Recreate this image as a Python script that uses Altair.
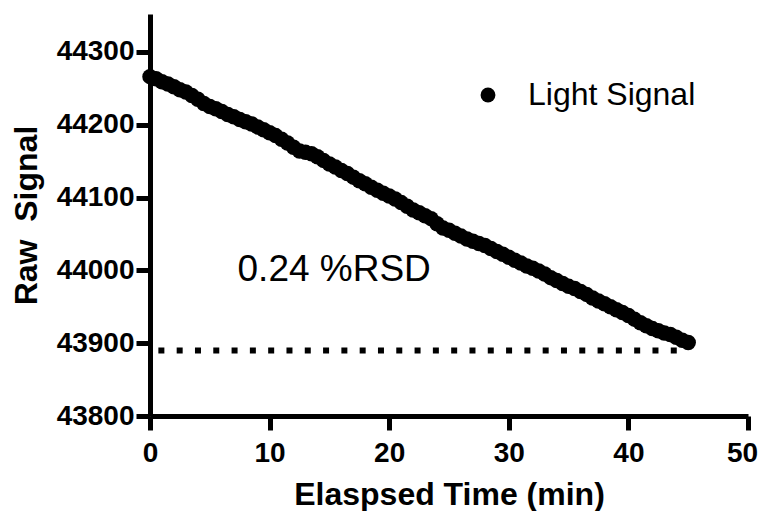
import altair as alt
import pandas as pd

FONT = "Liberation Sans"

time_min = [0.0, 0.5, 1.0, 1.5, 2.0, 2.5, 3.0, 3.5, 4.0, 4.5,
            5.0, 5.5, 6.0, 6.5, 7.0, 7.5, 8.0, 8.5, 9.0, 9.5,
            10.0, 10.5, 11.0, 11.5, 12.0, 12.5, 13.0, 13.5, 14.0, 14.5,
            15.0, 15.5, 16.0, 16.5, 17.0, 17.5, 18.0, 18.5, 19.0, 19.5,
            20.0, 20.5, 21.0, 21.5, 22.0, 22.5, 23.0, 23.5, 24.0, 24.5,
            25.0, 25.5, 26.0, 26.5, 27.0, 27.5, 28.0, 28.5, 29.0, 29.5,
            30.0, 30.5, 31.0, 31.5, 32.0, 32.5, 33.0, 33.5, 34.0, 34.5,
            35.0, 35.5, 36.0, 36.5, 37.0, 37.5, 38.0, 38.5, 39.0, 39.5,
            40.0, 40.5, 41.0, 41.5, 42.0, 42.5, 43.0, 43.5, 44.0, 44.5,
            45.0]
raw_signal = [44266, 44263, 44259, 44256, 44252, 44248, 44245, 44240, 44235, 44229,
              44225, 44222, 44218, 44214, 44211, 44207, 44204, 44201, 44197, 44193,
              44189, 44185, 44180, 44175, 44169, 44164, 44162, 44160, 44156, 44151,
              44146, 44142, 44137, 44133, 44128, 44123, 44119, 44114, 44110, 44106,
              44102, 44098, 44093, 44088, 44083, 44079, 44075, 44071, 44064, 44058,
              44055, 44051, 44047, 44043, 44040, 44037, 44034, 44030, 44026, 44022,
              44018, 44014, 44010, 44006, 44003, 43999, 43995, 43990, 43986, 43982,
              43978, 43975, 43971, 43967, 43962, 43958, 43954, 43950, 43946, 43942,
              43938, 43933, 43928, 43924, 43920, 43917, 43914, 43912, 43908, 43904,
              43901]
series_name = "Light Signal"

annot_text = ["0.24 %RSD"]
annot_x = [15.4]
annot_y = [44000]

ref_y = [43890]
ref_x_start = [0.7]
ref_x_end = [44.8]

x_ticks = [0, 10, 20, 30, 40, 50]
y_ticks = [43800, 43900, 44000, 44100, 44200, 44300]
x_domain = [0, 50]
y_domain = [43800, 44352]

x_title = "Elaspsed Time (min)"
y_title = "Raw\u00a0\u00a0Signal"

df = pd.DataFrame({"t": time_min, "v": raw_signal, "s": [series_name] * len(time_min)})
ref_df = pd.DataFrame({"x1": ref_x_start, "x2": ref_x_end, "y": ref_y})
txt_df = pd.DataFrame({"x": annot_x, "y": annot_y, "label": annot_text})

x_scale = alt.Scale(domain=x_domain, nice=False, zero=False)
y_scale = alt.Scale(domain=y_domain, nice=False, zero=False)
x_axis = alt.Axis(
    values=x_ticks, title=x_title, format="d",
    labelOffset={"condition": {"test": "datum.value == 50", "value": -6}, "value": 0},
)
y_axis = alt.Axis(values=y_ticks, title=y_title, format="d")

rule = alt.Chart(ref_df).mark_rule(
    color="black", strokeWidth=6, strokeDash=[6, 12.3], strokeCap="butt"
).encode(
    x=alt.X("x1:Q", scale=x_scale, axis=x_axis),
    x2="x2:Q",
    y=alt.Y("y:Q", scale=y_scale, axis=y_axis),
)

points = alt.Chart(df).mark_point(
    filled=True, size=240, opacity=1, shape="circle"
).encode(
    x=alt.X("t:Q", scale=x_scale, axis=x_axis),
    y=alt.Y("v:Q", scale=y_scale, axis=y_axis),
    color=alt.Color(
        "s:N",
        scale=alt.Scale(range=["black"]),
        legend=alt.Legend(
            title=None, orient="none", legendX=322, legendY=65,
            symbolSize=220, symbolType="circle", symbolFillColor="black",
            symbolStrokeWidth=0, labelFontSize=32, labelFont=FONT,
            labelColor="black", labelOffset=24, labelFontWeight="normal",
            labelLimit=400,
        ),
    ),
)

text = alt.Chart(txt_df).mark_text(
    font=FONT, fontSize=37, align="center", baseline="middle", color="black"
).encode(
    x=alt.X("x:Q", scale=x_scale, axis=x_axis),
    y=alt.Y("y:Q", scale=y_scale, axis=y_axis),
    text="label:N",
)

chart = alt.layer(rule, points, text).properties(
    width=598,
    height=402,
    autosize=alt.AutoSizeParams(type="none"),
    padding={"left": 142, "top": 6, "right": 10, "bottom": 100},
).configure_axis(
    grid=False,
    domainColor="black", domainWidth=5,
    tickColor="black", tickWidth=5, tickSize=14,
    labelFont=FONT, labelFontSize=28, labelFontWeight="bold", labelColor="black",
    titleFont=FONT, titleFontSize=32, titleFontWeight="bold", titleColor="black",
).configure_axisY(
    labelPadding=2, titlePadding=13,
).configure_axisX(
    labelPadding=9, titlePadding=12, labelFlush=False,
).configure_view(stroke=None)

chart.save("out.html", embed_options={"renderer": "svg", "actions": False})
